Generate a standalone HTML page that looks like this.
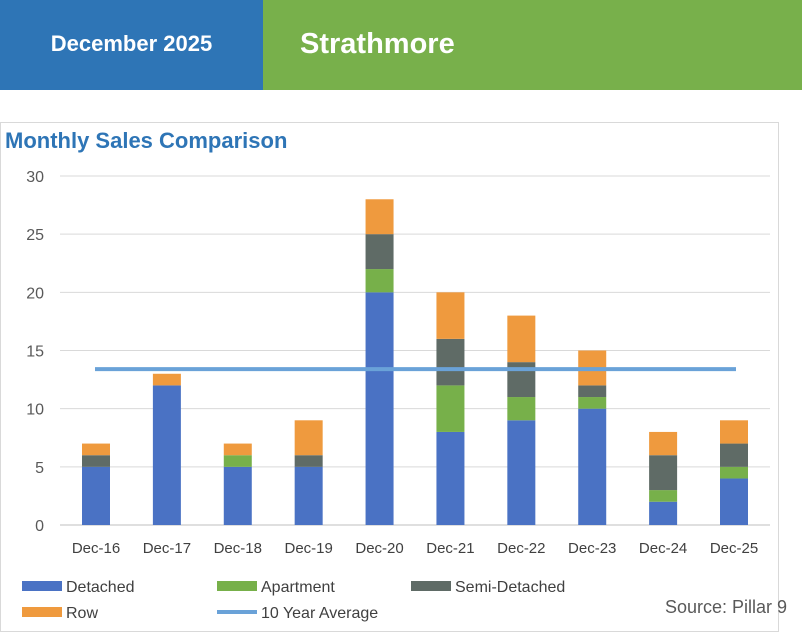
<!DOCTYPE html>
<html><head><meta charset="utf-8"><style>
body{margin:0;width:802px;height:642px;overflow:hidden;background:#fff;font-family:"Liberation Sans",sans-serif;}
.hdr{position:absolute;top:0;height:90px;color:#fff;font-weight:bold;}
</style></head><body>
<div class="hdr" style="left:0;width:263px;background:#2e75b6;font-size:22px;line-height:88px;text-align:center;">December 2025</div>
<div class="hdr" style="left:263px;width:539px;background:#78b04b;font-size:29px;line-height:88px;padding-left:37px;box-sizing:border-box;">Strathmore</div>
<div style="position:absolute;left:0;top:122px;width:779px;height:510px;border:1px solid #d9d9d9;box-sizing:border-box;"></div>
<div style="position:absolute;left:5px;top:128px;font-size:22px;font-weight:bold;color:#2e75b6;">Monthly Sales Comparison</div>
<svg id="c" width="802" height="642" style="position:absolute;left:0;top:0"></svg>
<div style="position:absolute;left:665px;top:597px;font-size:18px;color:#595959;">Source: Pillar 9</div>
<script>
const categories=["Dec-16","Dec-17","Dec-18","Dec-19","Dec-20","Dec-21","Dec-22","Dec-23","Dec-24","Dec-25"];
const detached=[5,12,5,5,20,8,9,10,2,4];
const apartment=[0,0,1,0,2,4,2,1,1,1];
const semiDetached=[1,0,0,1,3,4,3,1,3,2];
const row=[1,1,1,3,3,4,4,3,2,2];
const tenYearAverage=13.4;
const yTicks=[0,5,10,15,20,25,30];
const series=[["detached",detached,"#4a72c4"],["apartment",apartment,"#77b04a"],["semi-detached",semiDetached,"#5f6b66"],["row",row,"#ef9a3e"]];
const svg=document.getElementById('c'),NS="http://www.w3.org/2000/svg";
const y=v=>525-v*(349/30);
const x0=96,step=(734-96)/9;
const x=i=>x0+i*step;
function mk(t,a){const e=document.createElementNS(NS,t);for(const k in a)e.setAttribute(k,a[k]);svg.appendChild(e);return e;}
yTicks.forEach(t=>{
 const g=mk('line',{x1:60,x2:770,y1:y(t),y2:y(t),stroke:t?'#d9d9d9':'#bfbfbf','stroke-width':1});
 
 
 const l=mk('text',{x:44,y:y(t)+6,'text-anchor':'end','font-size':16,fill:'#595959','font-family':'Liberation Sans'});
 l.textContent=t;
 
 
});
categories.forEach((c,i)=>{
 let base=0;
 series.forEach(([n,arr,col])=>{
  const v=arr[i];
  if(v>0){
   const r=mk('rect',{x:x(i)-14,y:y(base+v),width:28,height:y(base)-y(base+v),fill:col});
   
   
  }
  base+=v;
 });
 const l=mk('text',{x:x(i),y:553,'text-anchor':'middle','font-size':15,fill:'#404040','font-family':'Liberation Sans'});
 l.textContent=c;
 
 
});
const avg=mk('line',{x1:x(0)-1,x2:x(9)+2,y1:y(tenYearAverage),y2:y(tenYearAverage),stroke:'#6aa2d8','stroke-width':4});


const leg=[["Detached","#4a72c4",22,586,0],["Apartment","#77b04a",217,586,0],["Semi-Detached","#5f6b66",411,586,0],["Row","#ef9a3e",22,612,0],["10 Year Average","#6aa2d8",217,612,1]];
leg.forEach(([t,col,lx,ly,isLine])=>{
 const s=isLine?mk('line',{x1:lx,x2:lx+40,y1:ly,y2:ly,stroke:col,'stroke-width':4}):mk('rect',{x:lx,y:ly-5,width:40,height:10,fill:col});
 
 
 const tx=mk('text',{x:lx+44,y:ly+6,'font-size':16,fill:'#404040','font-family':'Liberation Sans'});
 tx.textContent=t;
 
 
});
</script>
</body></html>
